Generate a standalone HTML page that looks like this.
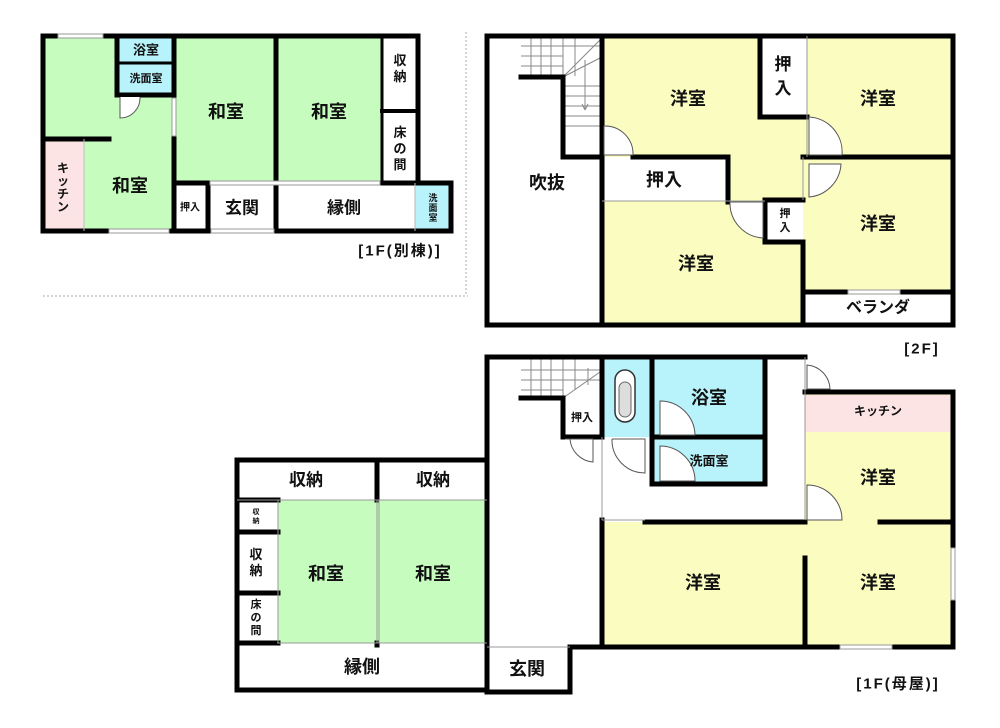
<!DOCTYPE html>
<html><head><meta charset="utf-8"><style>
html,body{margin:0;padding:0;background:#fff}
svg{display:block}
text{font-family:"Liberation Sans","Noto Sans CJK JP",sans-serif;font-weight:bold;fill:#111;text-anchor:middle;dominant-baseline:central}
</style></head><body>
<svg width="1000" height="728" viewBox="0 0 1000 728" xmlns="http://www.w3.org/2000/svg">
<!-- ===== 1F annex ===== -->
<g>
<rect x="43" y="36" width="375" height="195" fill="#fff"/>
<rect x="43" y="36" width="131" height="195" fill="#c6fcbe"/>
<rect x="117" y="36" width="57" height="59" fill="#b8f2fa"/>
<rect x="43" y="139" width="41" height="92" fill="#fce4e4"/>
<rect x="174" y="36" width="102" height="147" fill="#c6fcbe"/>
<rect x="276" y="36" width="106" height="147" fill="#c6fcbe"/>
<rect x="415" y="183" width="35" height="48" fill="#b8f2fa"/>
<g stroke="#000" stroke-width="5" fill="none" stroke-linecap="square">
<path d="M43,36 H418 V183 H451 V231 H43 Z"/>
<path d="M117,36 V95 H174"/><path d="M117,63 H174" stroke-width="3"/>
<path d="M174,36 V231"/><path d="M276,36 V231"/>
<path d="M382,36 V183" stroke-width="3"/><path d="M382,111 H418" stroke-width="4"/>
<path d="M43,139 H109"/>
<path d="M174,183 H208 V231"/><path d="M382,183 H418"/>
</g>
<path d="M84,139 V231" stroke="#bbb" stroke-width="1"/>
<path d="M415,183 V231" stroke="#bbb" stroke-width="1"/>
<rect x="58" y="34" width="45" height="4" fill="#fff" stroke="#999" stroke-width="1"/>
<rect x="109" y="229" width="60" height="4" fill="#fff" stroke="#999" stroke-width="1"/>
<rect x="172" y="98" width="4" height="38" fill="#fff" stroke="#999" stroke-width="1"/>
<rect x="210" y="181" width="170" height="4" fill="#fff" stroke="#999" stroke-width="1"/>
<rect x="211" y="229" width="63" height="4" fill="#fff" stroke="#999" stroke-width="1"/>
<path d="M120,97 V118 A20,20 0 0 0 140,97" fill="#fff" stroke="#555" stroke-width="1"/>
<text x="146" y="50" font-size="13">浴室</text>
<text x="146" y="79" font-size="11">洗面室</text>
<text x="226" y="112" font-size="18">和室</text>
<text x="329" y="112" font-size="18">和室</text>
<text x="130" y="186" font-size="18">和室</text>
<text x="400" y="68" font-size="13"><tspan x="400" dy="-8">収</tspan><tspan x="400" dy="16">納</tspan></text>
<text x="400" y="148" font-size="13"><tspan x="400" dy="-16">床</tspan><tspan x="400" dy="16">の</tspan><tspan x="400" dy="16">間</tspan></text>
<text x="63" y="186" font-size="12"><tspan x="63" dy="-18">キ</tspan><tspan x="63" dy="13">ッ</tspan><tspan x="63" dy="13">チ</tspan><tspan x="63" dy="13">ン</tspan></text>
<text x="190" y="208" font-size="10">押入</text>
<text x="242" y="208" font-size="17">玄関</text>
<text x="344" y="208" font-size="17">縁側</text>
<text x="433" y="208" font-size="9"><tspan x="433" dy="-10">洗</tspan><tspan x="433" dy="10">面</tspan><tspan x="433" dy="10">室</tspan></text>
<text x="400" y="251" font-size="15" font-weight="normal" letter-spacing="2">[1F(別棟)]</text>
<path d="M43,296 H468 M466,32 V296" stroke="#aaa" stroke-width="1" stroke-dasharray="2,2"/>
</g>

<!-- ===== 2F ===== -->
<g>
<rect x="602" y="36" width="351" height="289" fill="#fafcc0"/>
<rect x="760" y="36" width="47" height="81" fill="#fff"/>
<rect x="602" y="157" width="126" height="44" fill="#fff"/>
<rect x="765" y="200" width="38" height="42" fill="#fff"/>
<rect x="803" y="292" width="150" height="33" fill="#fff"/>
<g stroke="#888" stroke-width="1">
<path d="M521,46 H602 M521,56 H563 M521,66 H563 M563,86 H602 M563,96 H602 M563,106 H602 M563,116 H602 M563,126 H602"/>
<path d="M531,36 V77 M541,36 V77 M551,36 V77 M563,36 V77 M575,36 V76 M585,60 V110 M563,77 L600,58 M563,77 L600,40"/>
<path d="M585,110 L582,104 M585,110 L588,104"/>
</g>
<g stroke="#000" stroke-width="5" fill="none" stroke-linecap="square">
<path d="M487,36 H953 V325 H487 Z"/>
<path d="M602,36 V325"/>
<path d="M521,77 H563 V157 H602"/>
<path d="M760,36 V117 H807"/>
<path d="M633,157 H728 V202"/>
<path d="M803,157 H953"/>
<path d="M765,200 H803 M765,200 V242 H803 V325"/>
<path d="M803,292 H953"/>
</g>
<path d="M807,36 V157 M803,157 V200 M602,201 H728 M728,201 H765" stroke="#999" stroke-width="1"/>
<rect x="848" y="290" width="52" height="4" fill="#fff" stroke="#999" stroke-width="1"/>
<path d="M604,126 A28,28 0 0 1 633,155 H604 Z" fill="#fff" stroke="#555" stroke-width="1"/>
<path d="M809,117 A35,35 0 0 1 842,155 H809 Z" fill="#fff" stroke="#555" stroke-width="1"/>
<path d="M809,164 H841 A35,35 0 0 1 809,197 Z" fill="#fff" stroke="#555" stroke-width="1"/>
<path d="M730,202 A35,35 0 0 0 763,238 V202 Z" fill="#fff" stroke="#555" stroke-width="1"/>
<text x="688" y="99" font-size="18">洋室</text>
<text x="878" y="99" font-size="18">洋室</text>
<text x="878" y="224" font-size="18">洋室</text>
<text x="696" y="264" font-size="18">洋室</text>
<text x="547" y="183" font-size="18">吹抜</text>
<text x="664" y="180" font-size="18">押入</text>
<text x="783" y="76" font-size="17"><tspan x="783" dy="-12">押</tspan><tspan x="783" dy="24">入</tspan></text>
<text x="785" y="221" font-size="11"><tspan x="785" dy="-7">押</tspan><tspan x="785" dy="14">入</tspan></text>
<text x="878" y="308" font-size="16">ベランダ</text>
<text x="922" y="349" font-size="15" font-weight="normal" letter-spacing="2">[2F]</text>
</g>

<!-- ===== 1F main ===== -->
<g>
<rect x="602" y="357" width="50" height="80" fill="#b8f2fa"/>
<rect x="652" y="357" width="113" height="80" fill="#b8f2fa"/>
<rect x="652" y="437" width="113" height="47" fill="#b8f2fa"/>
<rect x="805" y="392" width="148" height="255" fill="#fafcc0"/>
<rect x="805" y="395" width="148" height="37" fill="#fce4e4"/>
<rect x="602" y="522" width="351" height="125" fill="#fafcc0"/>
<rect x="278" y="500" width="209" height="143" fill="#c6fcbe"/>
<g stroke="#888" stroke-width="1">
<path d="M521,370 H602 M521,380 H602 M521,390 H563"/>
<path d="M531,357 V398 M541,357 V398 M551,357 V398 M563,357 V398 M575,357 V390 M563,398 L600,372 M588,368 V385"/>
</g>
<rect x="615" y="370" width="20" height="52" rx="10" fill="#fff" stroke="#333" stroke-width="1.5"/>
<rect x="619" y="382" width="12" height="35" rx="6" fill="#ddd" stroke="#666" stroke-width="1"/>
<g stroke="#000" stroke-width="5" fill="none" stroke-linecap="square">
<path d="M805,357 H487 V692 H570 V647"/>
<path d="M805,392 H953 V647 H570"/>
<path d="M602,357 V437 M602,520 V647"/>
<path d="M521,398 H563 V437 H602"/>
<path d="M652,357 V484 H765 V357 M652,437 H765"/>
<path d="M645,522 H805 M880,522 H953 M805,558 V647"/>
<path d="M237,460 H487 V690 H237 Z"/>
<path d="M237,500 H278 M237,532 H278 M237,593 H278 M237,643 H278 M377,460 V500 M377,643 V645"/>
</g>
<path d="M805,357 V392 M805,392 V520 M602,437 V520 M602,520 H645" stroke="#999" stroke-width="1"/>
<path d="M237,500 H487 M278,500 V643 M277,643 H487 M377,500 V643 M379,500 V643" stroke="#999" stroke-width="1"/>
<path d="M487,647 H570" stroke="#999" stroke-width="1"/>
<rect x="840" y="645" width="52" height="4" fill="#fff" stroke="#999" stroke-width="1"/>
<rect x="951" y="548" width="4" height="52" fill="#fff" stroke="#999" stroke-width="1"/>
<path d="M565,439 H593 V462 A25,25 0 0 1 570,439" fill="#fff" stroke="#555" stroke-width="1"/>
<path d="M612,439 H645 V473 A33,33 0 0 1 612,439" fill="#fff" stroke="#555" stroke-width="1"/>
<path d="M660,401 A35,35 0 0 1 695,435 H660 Z" fill="#fff" stroke="#555" stroke-width="1"/>
<path d="M660,446 A35,35 0 0 1 695,481 H660 Z" fill="#fff" stroke="#555" stroke-width="1"/>
<path d="M807,485 A35,35 0 0 1 842,520 H807 Z" fill="#fff" stroke="#555" stroke-width="1"/>
<path d="M807,365 A25,25 0 0 1 830,389 H807 Z" fill="#fff" stroke="#555" stroke-width="1"/>
<text x="582" y="418" font-size="11">押入</text>
<text x="709" y="398" font-size="18">浴室</text>
<text x="709" y="461" font-size="13">洗面室</text>
<text x="878" y="411" font-size="12">キッチン</text>
<text x="878" y="478" font-size="18">洋室</text>
<text x="703" y="583" font-size="18">洋室</text>
<text x="878" y="583" font-size="18">洋室</text>
<text x="527" y="669" font-size="18">玄関</text>
<text x="306" y="480" font-size="17">収納</text>
<text x="433" y="480" font-size="17">収納</text>
<text x="256" y="516" font-size="7"><tspan x="256" dy="-4">収</tspan><tspan x="256" dy="9">納</tspan></text>
<text x="256" y="562" font-size="13"><tspan x="256" dy="-8">収</tspan><tspan x="256" dy="16">納</tspan></text>
<text x="256" y="618" font-size="11"><tspan x="256" dy="-13">床</tspan><tspan x="256" dy="13">の</tspan><tspan x="256" dy="13">間</tspan></text>
<text x="326" y="574" font-size="18">和室</text>
<text x="433" y="574" font-size="18">和室</text>
<text x="362" y="667" font-size="18">縁側</text>
<text x="898" y="684" font-size="15" font-weight="normal" letter-spacing="2">[1F(母屋)]</text>
</g>
</svg>
</body></html>
